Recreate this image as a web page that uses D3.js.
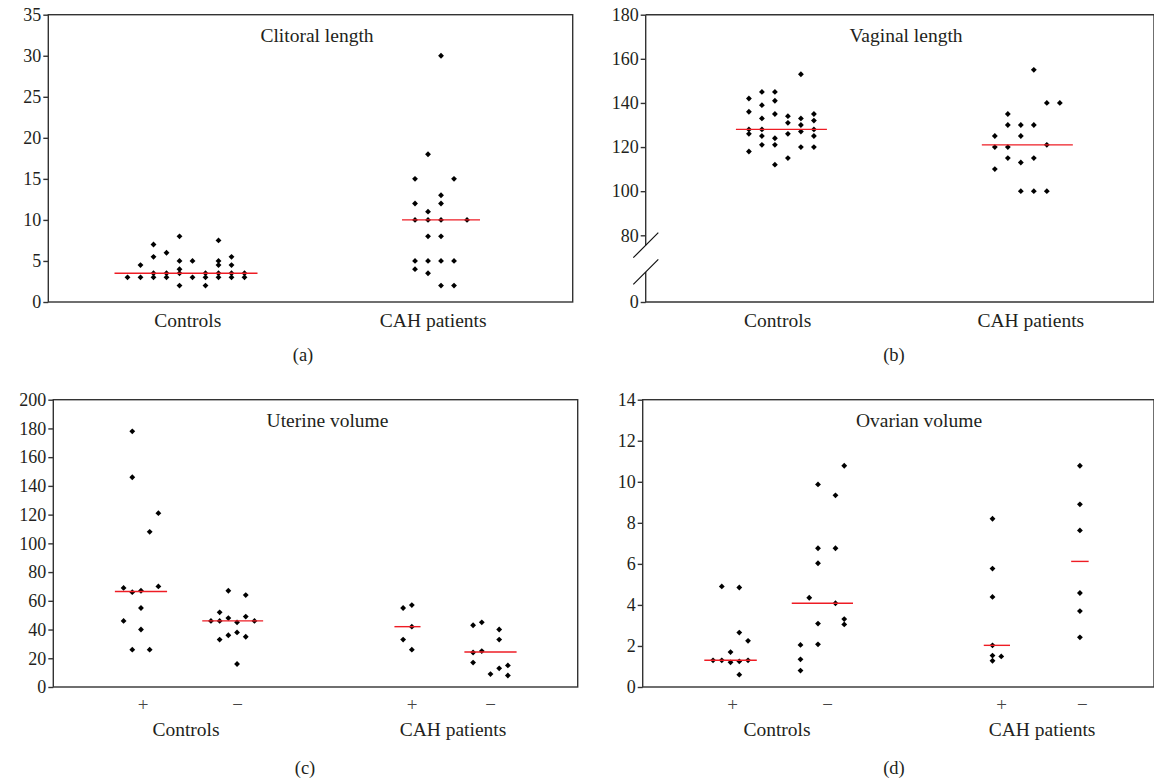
<!DOCTYPE html>
<html><head><meta charset="utf-8">
<script src="https://cdn.jsdelivr.net/npm/d3@7/dist/d3.min.js"></script>
<style>body{margin:0;background:#fff}svg{display:block}svg text{font-family:"Liberation Serif","Times New Roman",serif !important;fill:#231f20}</style>
</head><body><svg id="c" width="1154" height="784"></svg>
<script>
// ---- data ----
// each group: columns of values (dot-plot columns, left to right)
const panelTitles = ["Clitoral length","Vaginal length","Uterine volume","Ovarian volume"];
const captions = ["(a)","(b)","(c)","(d)"];
const groupNames = ["Controls","CAH patients"];
const subNames = ["+","\u2212"];

const clitTicks = [0,5,10,15,20,25,30,35];
const clitControls = [[3],[4.5,3],[7,5.5,3.5,3],[6,3.5,3],[8,5,4,3.5,2],[5,3],[3.5,3,2],[7.5,5,4.5,3.5,3],[5.5,4.5,3.5,3],[3.5,3]];
const clitCAH = [[15,12,10,5,4],[18,11,10,8,5,3.5],[30,13,12,10,8,5,2],[15,5,2],[10]];
const clitMedians = [3.5,10];

const vagTicks = [0,80,100,120,140,160,180];
const vagControls = [[142,136,128,126,118],[145,139,133,128,125,121],[145,141,135,124,121,112],[134,131,126,115],[153,133,130,127,120],[135,132,128,125,120]];
const vagCAH = [[125,120,110],[135,130,120,115],[130,125,113,100],[155,130,115,100],[140,121,100],[140]];
const vagMedians = [128,121];

const uterTicks = [0,20,40,60,80,100,120,140,160,180,200];
const uterControlsPlus = [[69,46],[178,146,66,26],[67,55,40],[108,26],[121,70]];
const uterControlsMinus = [[46],[52,46,33],[67,48,36],[45,38,16],[64,49,35],[46]];
const uterCAHPlus = [[55,33],[57,42,26]];
const uterCAHMinus = [[43,24,17],[45,25],[9],[40,33,13],[15,8]];
const uterMedians = [66.5,46,42,24.4];

const ovTicks = [0,2,4,6,8,10,12,14];
const ovControlsPlus = [[1.3],[4.9,1.3],[1.7,1.2],[4.85,2.65,1.25,0.6],[2.25,1.3]];
const ovControlsMinus = [[2.05,1.35,0.8],[4.35],[9.87,6.76,6.03,3.09,2.08],[],[9.34,6.76,4.08],[10.78,3.31,3.05]];
const ovCAHPlus = [[8.2,5.77,4.39,2.03,1.53,1.28],[1.49]];
const ovCAHMinus = [[10.78,8.9,7.63,4.58,3.7,2.42]];
const ovMedians = [1.3,4.08,2.03,6.12];

// ---- layout ----
const svg = d3.select("#c");
const ink = "#333";
const serif = '"Liberation Serif","Times New Roman",serif';

const panels = [
  {x0:48.3,x1:572.7,y0:14.7,y1:302, y:d3.scaleLinear().domain([0,35]).range([302,14.7]), ticks:clitTicks,
   title:panelTitles[0], titleX:317, step:13,
   groups:[{cols:clitControls,med:clitMedians[0],f:0.2626},{cols:clitCAH,med:clitMedians[1],f:0.7489}],
   glabels:[{t:groupNames[0],f:0.266},{t:groupNames[1],f:0.734}], glY:327, sub:null, cap:captions[0], capX:303, capY:361},
  {x0:645.7,x1:1154,y0:14.7,y1:302, y:d3.scaleLinear().domain([0,80,180]).range([302,235.3,14.7]), ticks:vagTicks, brk:true,
   title:panelTitles[1], titleX:906, step:13,
   groups:[{cols:vagControls,med:vagMedians[0],f:0.267},{cols:vagCAH,med:vagMedians[1],f:0.7508}],
   glabels:[{t:groupNames[0],f:0.2597},{t:groupNames[1],f:0.7577}], glY:327, sub:null, cap:captions[1], capX:894, capY:361},
  {x0:53.3,x1:577.7,y0:399.7,y1:687, y:d3.scaleLinear().domain([0,200]).range([687,399.7]), ticks:uterTicks,
   title:panelTitles[2], titleX:327.5, step:8.7,
   groups:[{cols:uterControlsPlus,med:uterMedians[0],f:0.1672},{cols:uterControlsMinus,med:uterMedians[1],f:0.3421},
           {cols:uterCAHPlus,med:uterMedians[2],f:0.6754},{cols:uterCAHMinus,med:uterMedians[3],f:0.8337}],
   subF:[0.1711,0.3516,0.6840,0.8341],
   glabels:[{t:groupNames[0],f:0.2530},{t:groupNames[1],f:0.7622}], glY:736, sub:true, subY:711, cap:captions[2], capX:305, capY:774},
  {x0:642.7,x1:1154,y0:399.7,y1:687, y:d3.scaleLinear().domain([0,14]).range([687,399.7]), ticks:ovTicks,
   title:panelTitles[3], titleX:919, step:8.75,
   groups:[{cols:ovControlsPlus,med:ovMedians[0],f:0.1718},{cols:ovControlsMinus,med:ovMedians[1],f:0.3514},
           {cols:ovCAHPlus,med:ovMedians[2],f:0.6927},{cols:ovCAHMinus,med:ovMedians[3],f:0.8551}],
   subF:[0.1760,0.3618,0.7021,0.8598],
   glabels:[{t:groupNames[0],f:0.2627},{t:groupNames[1],f:0.7812}], glY:736, sub:true, subY:711, cap:captions[3], capX:894, capY:774}
];

const sym = d3.symbol().type(d3.symbolSquare).size(17)();

function txt(g, x, y, s, size, fill) {
  return g.append("text").attr("x",x).attr("y",y).attr("text-anchor","middle")
    .style("font-family",serif).style("font-size",size+"px").style("fill",fill||"#231f20").text(s);
}

panels.forEach(p => {
  const g = svg.append("g");
  const x = d3.scaleLinear().domain([0,1]).range([p.x0,p.x1]);
  const y = p.y;

  // frame
  if (!p.brk) {
    g.append("rect").attr("x",p.x0).attr("y",p.y0).attr("width",p.x1-p.x0).attr("height",p.y1-p.y0)
      .attr("fill","none").attr("stroke",ink).attr("stroke-width",1.4);
  } else {
    const L = p.x0;
    g.append("path").attr("d",`M${L},${p.y0}H${p.x1}V${p.y1}H${L}V271.9`).attr("fill","none").attr("stroke",ink).attr("stroke-width",1.4);
    g.append("path").attr("d",`M${L},${p.y0}V245.3`).attr("fill","none").attr("stroke",ink).attr("stroke-width",1.4);
    g.append("path").attr("d",`M${L-12.4},257.7L${L+12.6},232.7M${L-12.4},284.3L${L+12.6},259.3`)
      .attr("fill","none").attr("stroke","#111").attr("stroke-width",1.2);
  }

  // y axis
  const ax = g.append("g").attr("transform",`translate(${p.x0},0)`)
    .call(d3.axisLeft(y).tickValues(p.ticks).tickSize(5).tickPadding(2).tickFormat(d3.format("d")));
  ax.attr("font-family",null).attr("font-size",null);
  ax.select(".domain").remove();
  ax.selectAll(".tick line").attr("stroke",ink).attr("stroke-width",1.4);
  ax.selectAll(".tick text").style("font-family",serif).style("font-size","18px").style("fill","#231f20");

  // title
  txt(g, p.titleX, p.y0+27.5, p.title, 19.5);

  // points + medians
  p.groups.forEach(gr => {
    const cx = x(gr.f);
    const n = gr.cols.length;
    const colX = d3.scalePoint().domain(d3.range(n)).range([cx-(n-1)/2*p.step, cx+(n-1)/2*p.step]);
    const pts = [];
    gr.cols.forEach((col,i) => col.forEach(v => pts.push({c:i,v})));
    g.selectAll(null).data(pts).enter().append("path")
      .attr("d",sym).attr("fill","#000")
      .attr("transform",d=>`translate(${n===1?cx:colX(d.c)},${y(d.v)}) rotate(45)`);
    const half = (n+1)/2*p.step;
    g.append("line").attr("x1",cx-half).attr("x2",cx+half).attr("y1",y(gr.med)).attr("y2",y(gr.med))
      .attr("stroke","#ee1c24").attr("stroke-width",1.4);
  });

  if (p.sub) {
    p.subF.forEach((f,i) => txt(g, x(f), p.subY, subNames[i%2], 19, "#444"));
  }
  p.glabels.forEach(l => txt(g, x(l.f), p.glY, l.t, 19.5));
  txt(g, p.capX, p.capY, p.cap, 18.5);
});
</script>
</body></html>
